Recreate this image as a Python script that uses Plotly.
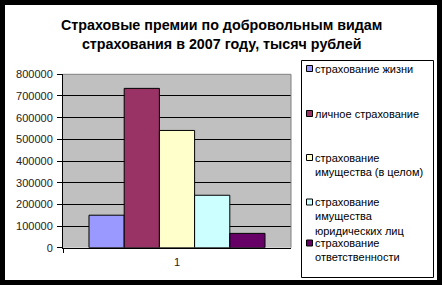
import plotly.graph_objects as go

W, H = 442, 285

# ---- data ----
categories = ["1"]
series_names = [
    "страхование жизни",
    "личное страхование",
    "страхование имущества (в целом)",
    "страхование имущества юридических лиц",
    "страхование ответственности",
]
legend_labels = [
    "страхование жизни",
    "личное страхование",
    "страхование<br>имущества (в целом)",
    "страхование<br>имущества<br>юридических лиц",
    "страхование<br>ответственности",
]
series_values = [150000, 735000, 541000, 242000, 66000]
series_colors = ["#9999FF", "#993366", "#FFFFCC", "#CCFFFF", "#660066"]
y_tick_values = [0, 100000, 200000, 300000, 400000, 500000, 600000, 700000, 800000]
title_text = "Страховые премии по добровольным видам<br>страхования в 2007 году, тысяч рублей"

FONT = "Liberation Sans, Arial, sans-serif"


def px(x):
    return x / W


def py(y):
    return 1 - y / H


fig = go.Figure()
for name, val, col in zip(series_names, series_values, series_colors):
    fig.add_trace(go.Bar(
        x=categories, y=[val], name=name,
        marker=dict(color=col, line=dict(color="black", width=1)),
        showlegend=False,
    ))

PL, PR, PT, PB = 63, 291, 74.3, 247.7

shapes = []
# black frame
for x0, y0, x1, y1 in [(0, 0, W, 5), (0, 280, W, H), (0, 0, 5, H), (437, 0, W, H)]:
    shapes.append(dict(type="rect", xref="paper", yref="paper",
                       x0=px(x0), x1=px(x1), y0=py(y1), y1=py(y0),
                       fillcolor="black", line=dict(width=0), layer="above"))
# plot area top/right gray border
shapes.append(dict(type="line", xref="paper", yref="paper",
                   x0=px(PL), x1=px(PR), y0=py(PT), y1=py(PT),
                   line=dict(color="#808080", width=1), layer="above"))
shapes.append(dict(type="line", xref="paper", yref="paper",
                   x0=px(PR), x1=px(PR), y0=py(PT), y1=py(PB),
                   line=dict(color="#808080", width=1), layer="above"))
# legend box
shapes.append(dict(type="rect", xref="paper", yref="paper",
                   x0=px(301.5), x1=px(433.5), y0=py(277.5), y1=py(60.5),
                   fillcolor="white", line=dict(color="black", width=1), layer="above"))

annotations = [dict(
    text="<b>" + title_text + "</b>", xref="paper", yref="paper",
    x=px(221), y=py(34), xanchor="center", yanchor="middle", showarrow=False,
    font=dict(family=FONT, size=14.3, color="black"),
)]

legend_first_line_y = [68.5, 113.5, 157.5, 202, 243]
for lab, col, ly in zip(legend_labels, series_colors, legend_first_line_y):
    shapes.append(dict(type="rect", xref="paper", yref="paper",
                       x0=px(306.5), x1=px(312.5), y0=py(ly + 3), y1=py(ly - 3),
                       fillcolor=col, line=dict(color="black", width=1), layer="above"))
    annotations.append(dict(
        text=lab, xref="paper", yref="paper", x=px(313), y=py(ly - 8),
        xanchor="left", yanchor="top", align="left", showarrow=False,
        font=dict(family=FONT, size=11, color="black"),
    ))

fig.update_layout(
    width=W, height=H,
    margin=dict(l=0, r=0, t=0, b=0),
    template="none",
    paper_bgcolor="white",
    plot_bgcolor="#C0C0C0",
    barmode="group",
    bargap=0.228,
    bargroupgap=0,
    showlegend=False,
    shapes=shapes,
    annotations=annotations,
    font=dict(family=FONT, size=11, color="black"),
    xaxis=dict(
        domain=[px(PL), px(PR)], type="category", automargin=False,
        showline=True, linecolor="black", linewidth=1,
        ticks="outside", tickson="boundaries", ticklen=4, tickcolor="black",
        showgrid=False, zeroline=False, ticklabelstandoff=4,
        tickfont=dict(family=FONT, size=11, color="#222222"),
    ),
    yaxis=dict(
        domain=[py(PB), py(PT)], range=[0, 800000], automargin=False,
        tickvals=y_tick_values, tickformat="d",
        showline=True, linecolor="black", linewidth=1,
        ticks="outside", ticklen=5, tickcolor="black",
        showgrid=True, gridcolor="black", gridwidth=1,
        zeroline=False, ticklabelstandoff=2,
        tickfont=dict(family=FONT, size=11, color="#222222"),
    ),
)

fig.write_html("out.html")
